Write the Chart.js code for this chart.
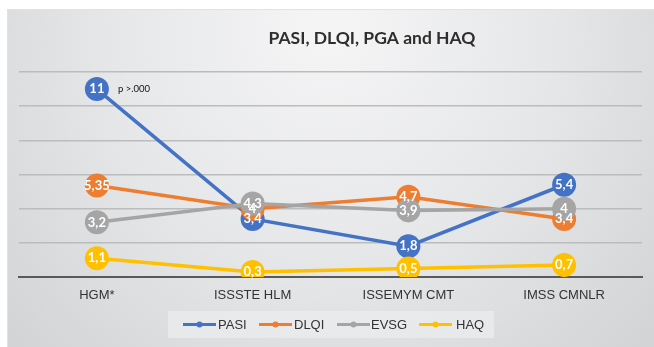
<!DOCTYPE html>
<html>
<head>
<meta charset="utf-8">
<script src="https://cdn.jsdelivr.net/npm/chart.js@4"></script>
<style>
  html, body { margin: 0; padding: 0; background: #fff; }
  #wrap { width: 654px; height: 347px; }
</style>
</head>
<body>
<div id="wrap"><canvas id="myChart" width="654" height="347"></canvas></div>
<script>
const categories = ["HGM*", "ISSSTE HLM", "ISSEMYM CMT", "IMSS CMNLR"]
const seriesNames = ["PASI", "DLQI", "EVSG", "HAQ"]
const pasi = [11, 3.4, 1.8, 5.4]
const dlqi = [5.35, 4, 4.7, 3.4]
const evsg = [3.2, 4.3, 3.9, 4]
const haq = [1.1, 0.3, 0.5, 0.7]
const yTicks = [0, 2, 4, 6, 8, 10, 12]
const colors = ["#4472C4", "#ED7D31", "#A5A5A5", "#FFC000"]

const ctx = document.getElementById('myChart')

function fmt(v) {
    return String(v).replace('.', ',')
}

// background panel, title, point labels and the legend box
const decor = {
    id: 'decor',
    beforeDraw(chart) {
        const c = chart.ctx
        c.save()
        c.fillStyle = "#ffffff"
        c.fillRect(0, 0, chart.width, chart.height)
        const g = c.createRadialGradient(330, 20, 20, 330, 60, 420)
        g.addColorStop(0, "#f4f4f5")
        g.addColorStop(0.5, "#e6e7e9")
        g.addColorStop(1, "#d3d4d6")
        c.fillStyle = g
        c.fillRect(7, 9, chart.width - 7, chart.height - 9)
        c.strokeStyle = "#e2e2e2"
        c.lineWidth = 1
        c.strokeRect(7.5, 9.5, chart.width - 7, chart.height - 9)
        c.restore()
    },
    afterDatasetsDraw(chart) {
        const c = chart.ctx
        c.save()
        c.textAlign = "center"
        c.textBaseline = "middle"
        c.font = "bold 13px Lato"
        c.fillStyle = "#ffffff"
        chart.data.datasets.forEach((ds, i) => {
            const meta = chart.getDatasetMeta(i)
            meta.data.forEach((pt, j) => {
                c.fillText(fmt(ds.data[j]), pt.x, pt.y)
            })
        })
        // note beside the first PASI point
        const first = chart.getDatasetMeta(0).data[0]
        c.textAlign = "left"
        c.fillStyle = "#111111"
        c.font = "9.5px Lato"
        c.fillText("p >.000", first.x + 21, first.y)

        // title
        c.textAlign = "center"
        c.fillStyle = "#2e2e2e"
        c.font = "bold 17.5px Lato"
        c.fillText("PASI, DLQI, PGA and HAQ", 372, 38)
        c.restore()
    },
    afterDraw(chart) {
        const c = chart.ctx
        c.save()
        c.fillStyle = "rgba(235,236,238,0.75)"
        c.fillRect(168, 311, 326, 27)
        const items = [[183, 218], [259, 294], [337, 371], [419, 456]]
        c.font = "13px 'Liberation Sans'"
        c.textBaseline = "middle"
        c.textAlign = "left"
        seriesNames.forEach((name, i) => {
            const [lx, tx] = items[i]
            c.strokeStyle = colors[i]
            c.lineWidth = 3
            c.beginPath()
            c.moveTo(lx, 324.5)
            c.lineTo(lx + 33, 324.5)
            c.stroke()
            c.fillStyle = colors[i]
            c.beginPath()
            c.arc(lx + 16.5, 324.5, 3, 0, Math.PI * 2)
            c.fill()
            c.fillStyle = "#333333"
            c.fillText(name, tx, 325)
        })
        c.restore()
    }
}

function makeSet(label, data, color, order) {
    return {
        label: label,
        data: data,
        borderColor: color,
        backgroundColor: color,
        pointBackgroundColor: color,
        pointBorderWidth: 0,
        pointRadius: 12,
        pointHoverRadius: 12,
        borderWidth: 3.5,
        tension: 0,
        order: order
    }
}

new Chart(ctx, {
    type: 'line',
    data: {
        labels: categories,
        datasets: [
            makeSet(seriesNames[0], pasi, colors[0], 4),
            makeSet(seriesNames[1], dlqi, colors[1], 3),
            makeSet(seriesNames[2], evsg, colors[2], 2),
            makeSet(seriesNames[3], haq, colors[3], 1)
        ]
    },
    options: {
        responsive: false,
        animation: false,
        layout: { padding: { top: 72, left: 19, right: 10, bottom: 0 } },
        plugins: {
            legend: { display: false },
            title: { display: false },
            tooltip: { enabled: false }
        },
        scales: {
            x: {
                offset: true,
                grid: { display: false, drawTicks: false },
                border: { display: true, color: "#595959", width: 2 },
                ticks: {
                    padding: 11,
                    color: "#333333",
                    font: { family: "'Liberation Sans'", size: 13 }
                },
                afterFit(scale) { scale.height = 70 }
            },
            y: {
                min: yTicks[0],
                max: yTicks[yTicks.length - 1],
                afterBuildTicks(scale) { scale.ticks = yTicks.map(v => ({ value: v })) },
                grid: { color: "#bcbcbc", lineWidth: 1.5, drawTicks: false },
                border: { display: false },
                ticks: { display: false },
                afterFit(scale) { scale.width = 0 }
            }
        }
    },
    plugins: [decor]
})
</script>
</body>
</html>
